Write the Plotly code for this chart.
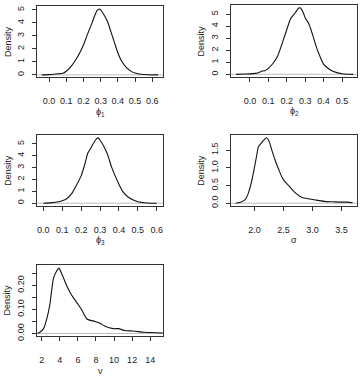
import plotly.graph_objects as go

W, H = 364, 386

# ---- data ----
phi1_x = [-0.042, 0.0, 0.05, 0.08, 0.10, 0.125, 0.15, 0.175, 0.20, 0.22, 0.25, 0.27, 0.28, 0.29, 0.30, 0.32, 0.34, 0.36, 0.38, 0.40, 0.42, 0.45, 0.48, 0.50, 0.55, 0.634]
phi1_y = [0.0, 0.02, 0.08, 0.12, 0.28, 0.6, 1.05, 1.6, 2.3, 3.0, 4.0, 4.7, 4.95, 5.05, 5.0, 4.6, 4.1, 3.3, 2.5, 1.7, 1.1, 0.55, 0.25, 0.15, 0.03, 0.0]

phi2_x = [-0.075, -0.03, 0.0, 0.03, 0.05, 0.065, 0.08, 0.10, 0.125, 0.15, 0.18, 0.20, 0.22, 0.235, 0.25, 0.265, 0.275, 0.29, 0.30, 0.32, 0.34, 0.36, 0.38, 0.40, 0.42, 0.45, 0.50, 0.56]
phi2_y = [0.0, 0.03, 0.04, 0.08, 0.15, 0.27, 0.3, 0.5, 0.9, 1.5, 2.8, 3.7, 4.6, 4.9, 5.2, 5.5, 5.5, 5.1, 4.7, 4.2, 3.3, 2.3, 1.5, 0.85, 0.55, 0.25, 0.05, 0.0]

phi3_x = [0.0, 0.05, 0.08, 0.10, 0.125, 0.15, 0.175, 0.20, 0.22, 0.235, 0.25, 0.26, 0.28, 0.29, 0.30, 0.32, 0.34, 0.36, 0.38, 0.40, 0.42, 0.45, 0.50, 0.55, 0.60]
phi3_y = [0.0, 0.05, 0.12, 0.2, 0.4, 0.8, 1.5, 2.3, 3.3, 4.2, 4.6, 4.9, 5.4, 5.5, 5.3, 4.8, 4.1, 3.1, 2.3, 1.6, 1.0, 0.5, 0.12, 0.02, 0.0]

sigma_x = [1.68, 1.75, 1.84, 1.90, 1.95, 2.00, 2.04, 2.07, 2.12, 2.16, 2.21, 2.26, 2.30, 2.36, 2.42, 2.47, 2.53, 2.60, 2.70, 2.82, 2.95, 3.05, 3.2, 3.35, 3.5, 3.6, 3.69]
sigma_y = [0.0, 0.02, 0.1, 0.3, 0.6, 1.0, 1.35, 1.6, 1.7, 1.78, 1.85, 1.72, 1.5, 1.2, 0.95, 0.75, 0.6, 0.48, 0.3, 0.16, 0.12, 0.09, 0.05, 0.04, 0.03, 0.03, 0.01]

nu_x = [1.52, 1.8, 2.2, 2.55, 2.9, 3.1, 3.3, 3.65, 3.9, 4.2, 4.75, 5.3, 5.95, 6.4, 7.0, 7.9, 8.45, 9.0, 9.9, 10.5, 11.2, 12.1, 13.3, 14.0, 15.4]
nu_y = [0.0, 0.005, 0.02, 0.06, 0.12, 0.18, 0.23, 0.26, 0.272, 0.25, 0.2, 0.16, 0.125, 0.1, 0.06, 0.05, 0.042, 0.03, 0.02, 0.02, 0.012, 0.01, 0.005, 0.004, 0.002]

x_titles = ["ϕ<sub>1</sub>", "ϕ<sub>2</sub>", "ϕ<sub>3</sub>", "σ", "ν"]

phi1_xticks = [0.0, 0.1, 0.2, 0.3, 0.4, 0.5, 0.6]
phi2_xticks = [0.0, 0.1, 0.2, 0.3, 0.4, 0.5]
phi3_xticks = [0.0, 0.1, 0.2, 0.3, 0.4, 0.5, 0.6]
sigma_xticks = [2.0, 2.5, 3.0, 3.5]
nu_xticks = [2, 4, 6, 8, 10, 12, 14]

phi_yticks = [0, 1, 2, 3, 4, 5]
sigma_yticks = [0.0, 0.5, 1.0, 1.5]
nu_yticks = [0.00, 0.10, 0.20]
nu_yminor = [0.05, 0.15, 0.25]

panels = [
    dict(x=phi1_x, y=phi1_y, xr=[-0.068, 0.664], yr=[-0.2, 5.3], box=(37.3, 163.3, 6, 78.5),
         xt=phi1_xticks, xtt=[f"{v:.1f}" for v in phi1_xticks], yt=phi_yticks, ytt=[str(v) for v in phi_yticks], ym=None),
    dict(x=phi2_x, y=phi2_y, xr=[-0.101, 0.583], yr=[-0.22, 5.72], box=(231.3, 357.3, 5.5, 78),
         xt=phi2_xticks, xtt=[f"{v:.1f}" for v in phi2_xticks], yt=phi_yticks, ytt=[str(v) for v in phi_yticks], ym=None),
    dict(x=phi3_x, y=phi3_y, xr=[-0.032, 0.635], yr=[-0.22, 5.72], box=(37.3, 163.3, 137, 208.5),
         xt=phi3_xticks, xtt=[f"{v:.1f}" for v in phi3_xticks], yt=phi_yticks, ytt=[str(v) for v in phi_yticks], ym=None),
    dict(x=sigma_x, y=sigma_y, xr=[1.603, 3.77], yr=[-0.074, 1.93], box=(231.3, 357.3, 136.7, 208.5),
         xt=sigma_xticks, xtt=[f"{v:.1f}" for v in sigma_xticks], yt=sigma_yticks, ytt=[f"{v:.1f}" for v in sigma_yticks], ym=None),
    dict(x=nu_x, y=nu_y, xr=[1.51, 15.45], yr=[-0.011, 0.287], box=(37.3, 163.3, 268, 340.5),
         xt=nu_xticks, xtt=[str(v) for v in nu_xticks], yt=nu_yticks, ytt=[f"{v:.2f}" for v in nu_yticks], ym=nu_yminor),
]

FONT = "Liberation Sans, Arial, sans-serif"
AX = "#333333"
TXT = "#222222"

fig = go.Figure()
layout = dict(width=W, height=H, margin=dict(l=0, r=0, t=0, b=0),
              paper_bgcolor="white", plot_bgcolor="white", showlegend=False,
              font=dict(family=FONT, size=9, color=TXT))
annotations = []
shapes = []

for i, p in enumerate(panels, start=1):
    xa = "xaxis" if i == 1 else f"xaxis{i}"
    ya = "yaxis" if i == 1 else f"yaxis{i}"
    xref = "x" if i == 1 else f"x{i}"
    yref = "y" if i == 1 else f"y{i}"
    x0, x1, top, bot = p["box"]
    fig.add_trace(go.Scatter(x=p["x"], y=p["y"], mode="lines", xaxis=xref, yaxis=yref,
                             line=dict(color="#111111", width=1.1, shape="spline", smoothing=0.6),
                             hoverinfo="skip"))
    layout[xa] = dict(domain=[x0 / W, x1 / W], range=p["xr"], anchor=yref,
                      showline=True, mirror=True, linecolor=AX, linewidth=1,
                      ticks="outside", ticklen=4, tickcolor=AX, tickwidth=1,
                      tickvals=p["xt"], ticktext=p["xtt"], showgrid=False, zeroline=False,
                      tickangle=0, ticklabelstandoff=11, tickfont=dict(size=9, color=TXT))
    ydict = dict(domain=[(H - bot) / H, (H - top) / H], range=p["yr"], anchor=xref,
                 showline=True, mirror=True, linecolor=AX, linewidth=1,
                 ticks="outside", ticklen=4, tickcolor=AX, tickwidth=1,
                 tickvals=p["yt"], ticktext=p["ytt"], tickangle=-90,
                 showgrid=False, zeroline=False, ticklabelstandoff=5,
                 tickfont=dict(size=9, color=TXT))
    if p["ym"] is not None:
        ydict["minor"] = dict(tickmode="array", tickvals=p["ym"], ticks="outside",
                              ticklen=4, tickcolor=AX, tickwidth=1, showgrid=False)
    layout[ya] = ydict
    shapes.append(dict(type="line", xref=f"{xref} domain", yref=yref, x0=0, x1=1, y0=0, y1=0,
                       line=dict(color="#bdbdbd", width=1), layer="below"))
    annotations.append(dict(text=x_titles[i - 1], xref="paper", yref="paper",
                            x=(x0 + x1) / 2 / W, y=(H - (bot + 35)) / H,
                            showarrow=False, font=dict(size=9, family=FONT, color=TXT),
                            xanchor="center", yanchor="middle"))
    annotations.append(dict(text="Density", xref="paper", yref="paper",
                            x=(x0 - 30) / W, y=(H - (top + bot) / 2) / H, textangle=-90,
                            showarrow=False, font=dict(size=9, family=FONT, color=TXT),
                            xanchor="center", yanchor="middle"))

layout["annotations"] = annotations
layout["shapes"] = shapes
fig.update_layout(**layout)
fig.write_html("out.html")
